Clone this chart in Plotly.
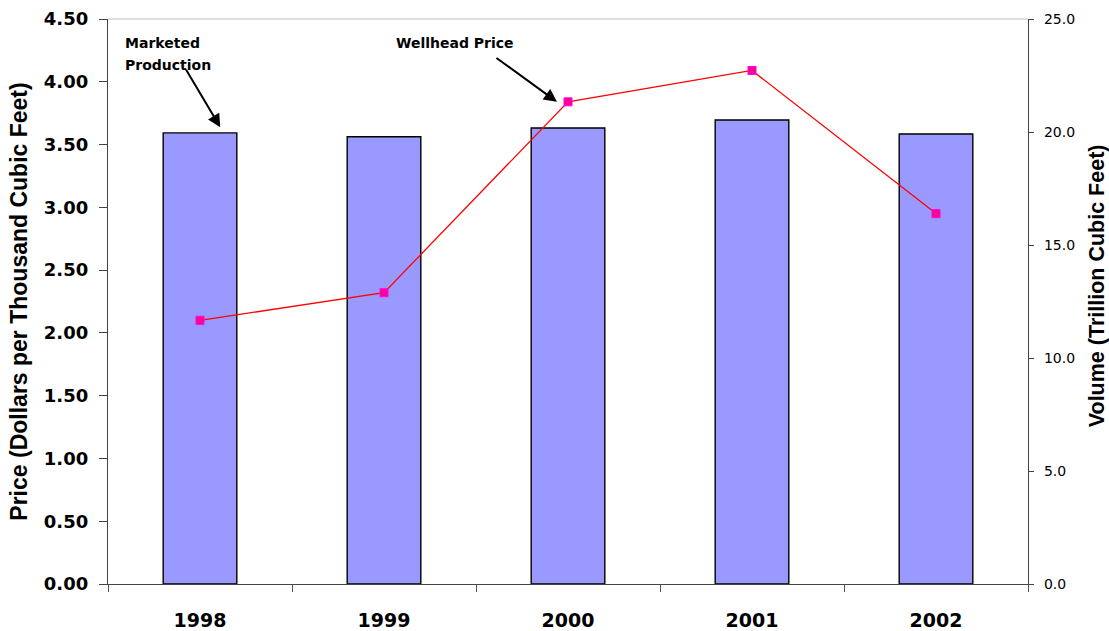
import plotly.graph_objects as go

years = ["1998", "1999", "2000", "2001", "2002"]
volume_tcf = [19.96, 19.79, 20.18, 20.53, 19.91]
wellhead_price = [2.10, 2.32, 3.84, 4.09, 2.95]

price_ticks = [i * 0.5 for i in range(10)]
volume_ticks = [i * 5.0 for i in range(6)]

wide_font = "DejaVu Sans, Verdana, sans-serif"
title_font = "Liberation Sans, Arial, sans-serif"
label_font = dict(size=14, family=wide_font, weight="bold", color="black")

fig = go.Figure()

fig.add_trace(go.Bar(
    x=years, y=volume_tcf, yaxis="y",
    marker=dict(color="#9999FF", line=dict(color="#000000", width=1.4)),
    width=0.40, name="Marketed Production",
))

fig.add_trace(go.Scatter(
    x=years, y=wellhead_price, yaxis="y2", mode="lines+markers",
    line=dict(color="#FF0000", width=1.3),
    marker=dict(symbol="square-x", size=8, color="#FF0066",
                line=dict(color="#FF00FF", width=1)),
    name="Wellhead Price",
))

arrow_style = dict(showarrow=True, arrowhead=2, arrowsize=1.3, arrowwidth=2,
                   arrowcolor="black", standoff=0, text="")

fig.update_layout(
    width=1109, height=631,
    margin=dict(l=108, r=81, t=19, b=47, autoexpand=False),
    plot_bgcolor="white", paper_bgcolor="white",
    showlegend=False,
    font=dict(family=title_font, color="black"),
    xaxis=dict(
        type="category", range=[-0.5, 4.5], tickson="boundaries",
        ticks="outside", ticklen=7, tickangle=0, automargin=False,
        ticklabelstandoff=19,
        tickcolor="#555555", showline=True, linecolor="#444444", linewidth=1,
        showgrid=False, tickfont=dict(size=19, family=wide_font, weight="bold"),
    ),
    yaxis=dict(
        side="right", range=[0, 25], tickvals=volume_ticks,
        ticktext=[f"{v:.1f}" for v in volume_ticks],
        ticks="outside", ticklen=5, tickcolor="#444444", automargin=False,
        ticklabelstandoff=7,
        showline=True, linecolor="#444444", linewidth=1.3, showgrid=False,
        zeroline=False, tickfont=dict(size=14, family=wide_font),
    ),
    yaxis2=dict(
        side="left", overlaying="y", range=[0, 4.5], tickvals=price_ticks,
        ticktext=[f"{v:.2f}" for v in price_ticks], automargin=False,
        ticks="outside", ticklen=8, tickcolor="#444444",
        ticklabelstandoff=7,
        showline=True, linecolor="#444444", linewidth=1.3, showgrid=False,
        zeroline=False, tickfont=dict(size=18, family=wide_font, weight="bold"),
        title=dict(text="Price (Dollars per Thousand Cubic Feet)",
                   font=dict(size=23, family=title_font, weight="bold"),
                   standoff=9),
    ),
    shapes=[dict(type="line", xref="paper", yref="paper", x0=0, x1=1, y0=1, y1=1,
                 line=dict(color="#BBBBBB", width=1))],
    annotations=[
        # right-hand axis title, set slightly above the axis midpoint
        dict(text="Volume (Trillion Cubic Feet)", xref="paper", yref="paper",
             x=1.075, y=0.527, xanchor="center", yanchor="middle",
             textangle=-90, showarrow=False,
             font=dict(size=21.5, family=title_font, weight="bold")),
        dict(text="Marketed", xref="paper", yref="paper",
             x=0.016, y=0.9575, xanchor="left", yanchor="middle",
             showarrow=False, font=label_font),
        dict(text="Production", xref="paper", yref="paper",
             x=0.016, y=0.9186, xanchor="left", yanchor="middle",
             showarrow=False, font=label_font),
        dict(text="Wellhead Price", xref="paper", yref="paper",
             x=0.311, y=0.9575, xanchor="left", yanchor="middle",
             showarrow=False, font=label_font),
        dict(x=0.11, y=volume_tcf[0] + 0.25, xref="x", yref="y",
             ax=-35, ay=-59, **arrow_style),
        dict(x=1.94, y=wellhead_price[2], xref="x", yref="y2",
             ax=-62, ay=-45, **arrow_style),
    ],
)

fig.write_html("out.html")
